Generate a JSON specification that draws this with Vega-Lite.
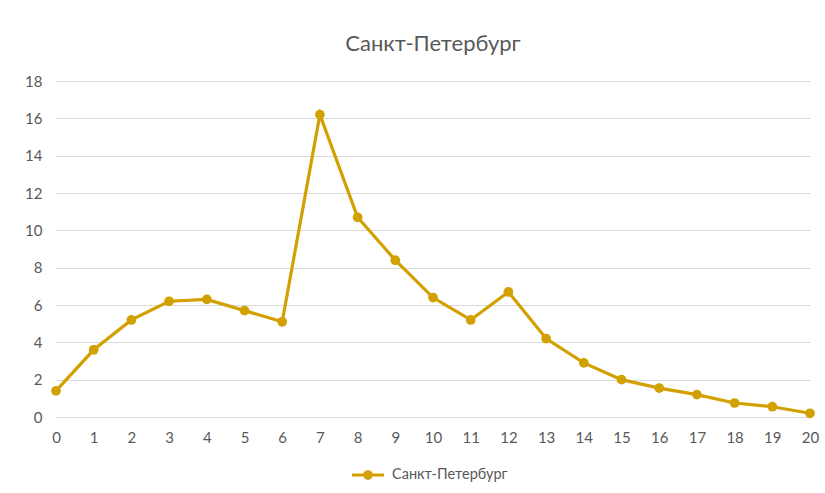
{
  "$schema": "https://vega.github.io/schema/vega-lite/v6.json",
  "autosize": "none",
  "width": 754,
  "height": 336,
  "padding": {"left": 56, "top": 81, "right": 15, "bottom": 76},
  "background": "white",
  "title": {
    "text": "Санкт-Петербург",
    "font": "Lato",
    "fontSize": 22,
    "fontWeight": "normal",
    "color": "#595959",
    "anchor": "middle",
    "offset": 18
  },
  "data": {
    "values": [
      {"x": 0, "y": 1.4, "series": "Санкт-Петербург"},
      {"x": 1, "y": 3.6, "series": "Санкт-Петербург"},
      {"x": 2, "y": 5.2, "series": "Санкт-Петербург"},
      {"x": 3, "y": 6.2, "series": "Санкт-Петербург"},
      {"x": 4, "y": 6.3, "series": "Санкт-Петербург"},
      {"x": 5, "y": 5.7, "series": "Санкт-Петербург"},
      {"x": 6, "y": 5.1, "series": "Санкт-Петербург"},
      {"x": 7, "y": 16.2, "series": "Санкт-Петербург"},
      {"x": 8, "y": 10.7, "series": "Санкт-Петербург"},
      {"x": 9, "y": 8.4, "series": "Санкт-Петербург"},
      {"x": 10, "y": 6.4, "series": "Санкт-Петербург"},
      {"x": 11, "y": 5.2, "series": "Санкт-Петербург"},
      {"x": 12, "y": 6.7, "series": "Санкт-Петербург"},
      {"x": 13, "y": 4.2, "series": "Санкт-Петербург"},
      {"x": 14, "y": 2.9, "series": "Санкт-Петербург"},
      {"x": 15, "y": 2.0, "series": "Санкт-Петербург"},
      {"x": 16, "y": 1.55, "series": "Санкт-Петербург"},
      {"x": 17, "y": 1.2, "series": "Санкт-Петербург"},
      {"x": 18, "y": 0.75, "series": "Санкт-Петербург"},
      {"x": 19, "y": 0.55, "series": "Санкт-Петербург"},
      {"x": 20, "y": 0.2, "series": "Санкт-Петербург"}
    ]
  },
  "mark": {
    "type": "line",
    "strokeWidth": 3.2,
    "point": {"filled": true, "size": 95, "opacity": 1}
  },
  "encoding": {
    "x": {
      "field": "x",
      "type": "quantitative",
      "scale": {"domain": [0, 20], "nice": false, "zero": false},
      "axis": {
        "title": null,
        "values": [0,1,2,3,4,5,6,7,8,9,10,11,12,13,14,15,16,17,18,19,20],
        "grid": false,
        "domain": false,
        "ticks": false,
        "labelPadding": 13,
        "labelFlush": false
      }
    },
    "y": {
      "field": "y",
      "type": "quantitative",
      "scale": {"domain": [0, 18], "nice": false},
      "axis": {
        "title": null,
        "values": [0,2,4,6,8,10,12,14,16,18],
        "grid": true,
        "domain": false,
        "ticks": false,
        "labelPadding": 14
      }
    },
    "color": {
      "field": "series",
      "type": "nominal",
      "scale": {"range": ["#D2A000"]},
      "legend": {
        "title": null,
        "orient": "none",
        "legendX": 294,
        "legendY": 376,
        "direction": "horizontal",
        "symbolType": "M-1,0H1M-0.2,0A0.2,0.2 0 1,0 0.2,0A0.2,0.2 0 1,0 -0.2,0",
        "symbolSize": 1024,
        "symbolStrokeWidth": 3.2,
        "symbolFillColor": "#D2A000",
        "symbolStrokeColor": "#D2A000",
        "labelOffset": 6
      }
    }
  },
  "config": {
    "view": {"stroke": null},
    "axis": {
      "labelFont": "Lato",
      "labelFontSize": 15,
      "labelColor": "#595959",
      "gridColor": "#D9D9D9",
      "gridWidth": 1
    },
    "legend": {
      "labelFont": "Lato",
      "labelFontSize": 14.5,
      "labelColor": "#595959"
    }
  }
}
